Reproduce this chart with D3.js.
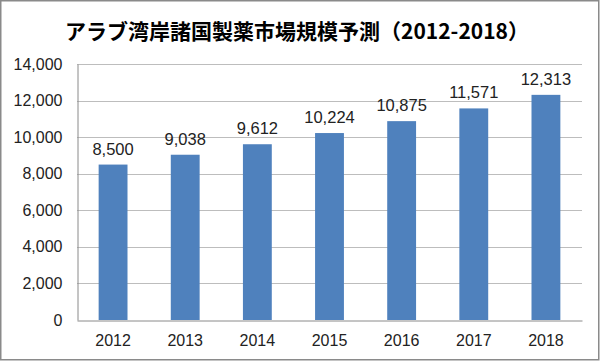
<!DOCTYPE html>
<html>
<head>
<meta charset="utf-8">
<script src="https://cdn.jsdelivr.net/npm/d3@7"></script>
<style>
  body { margin: 0; background: #fff; }
  text { font-family: 'Liberation Sans', Arial, sans-serif; }
</style>
</head>
<body>
<div id="chart"></div>
<script>
var years = ['2012', '2013', '2014', '2015', '2016', '2017', '2018']
var values = [8500, 9038, 9612, 10224, 10875, 11571, 12313]
var yTicks = [0, 2000, 4000, 6000, 8000, 10000, 12000, 14000]
var title = 'アラブ湾岸諸国製薬市場規模予測（2012-2018）'

var width = 600
var height = 361
var margin = { top: 64, left: 77, right: 18, bottom: 41 }

var svg = d3
  .select('#chart')
  .append('svg')
  .attr('width', width)
  .attr('height', height)

// outer frame
svg
  .append('rect')
  .attr('x', 0.75)
  .attr('y', 0.75)
  .attr('width', width - 2)
  .attr('height', height - 2)
  .attr('fill', '#fff')
  .attr('stroke', '#8a8a8a')
  .attr('stroke-width', 1.5)

svg
  .append('text')
  .attr('x', 297)
  .attr('y', 39)
  .attr('text-anchor', 'middle')
  .attr('font-size', 21)
  .attr('font-weight', 700)
  .style('font-family', "'Noto Sans CJK JP', sans-serif")
  .text(title)

var x = d3
  .scaleBand()
  .domain(years)
  .range([margin.left, width - margin.right])
  .paddingInner(0.6)
  .paddingOuter(0.3)

var y = d3
  .scaleLinear()
  .domain([0, 14000])
  .range([height - margin.bottom, margin.top])

var fmt = d3.format(',')

// gridlines
svg
  .selectAll('.grid')
  .data(yTicks.filter(d => d > 0))
  .enter()
  .append('line')
  .attr('class', 'grid')
  .attr('x1', margin.left)
  .attr('x2', width - margin.right)
  .attr('y1', d => Math.round(y(d)) + 0.5)
  .attr('y2', d => Math.round(y(d)) + 0.5)
  .attr('stroke', '#bdbdbd')
  .attr('stroke-width', 1)

// y axis
var yAxis = svg
  .append('g')
  .attr('transform', 'translate(' + (margin.left + 0.5) + ',0)')
  .call(d3.axisLeft(y).tickValues(yTicks).tickFormat(fmt).tickSize(0).tickPadding(15))

yAxis.select('.domain').attr('stroke', '#8a8a8a')
yAxis
  .selectAll('text')
  .attr('font-size', 16)
  .attr('fill', '#222')
  .style('font-family', "'Liberation Sans', Arial, sans-serif")

// bars
svg
  .selectAll('.bar')
  .data(values)
  .enter()
  .append('rect')
  .attr('class', 'bar')
  .attr('x', (d, i) => x(years[i]))
  .attr('width', x.bandwidth())
  .attr('y', d => y(d))
  .attr('height', d => y(0) - y(d))
  .attr('fill', '#4f81bd')

// value labels
svg
  .selectAll('.val')
  .data(values)
  .enter()
  .append('text')
  .attr('class', 'val')
  .attr('x', (d, i) => x(years[i]) + x.bandwidth() / 2)
  .attr('y', d => y(d) - 10)
  .attr('text-anchor', 'middle')
  .attr('font-size', 16.5)
  .attr('fill', '#222')
  .text(d => fmt(d))

// x axis
var xAxis = svg
  .append('g')
  .attr('transform', 'translate(0,' + (y(0) + 0.5) + ')')
  .call(d3.axisBottom(x).tickSize(0).tickPadding(14))

xAxis.select('.domain').attr('stroke', '#8a8a8a')
xAxis
  .selectAll('text')
  .attr('font-size', 16)
  .attr('fill', '#222')
  .style('font-family', "'Liberation Sans', Arial, sans-serif")
</script>
</body>
</html>
